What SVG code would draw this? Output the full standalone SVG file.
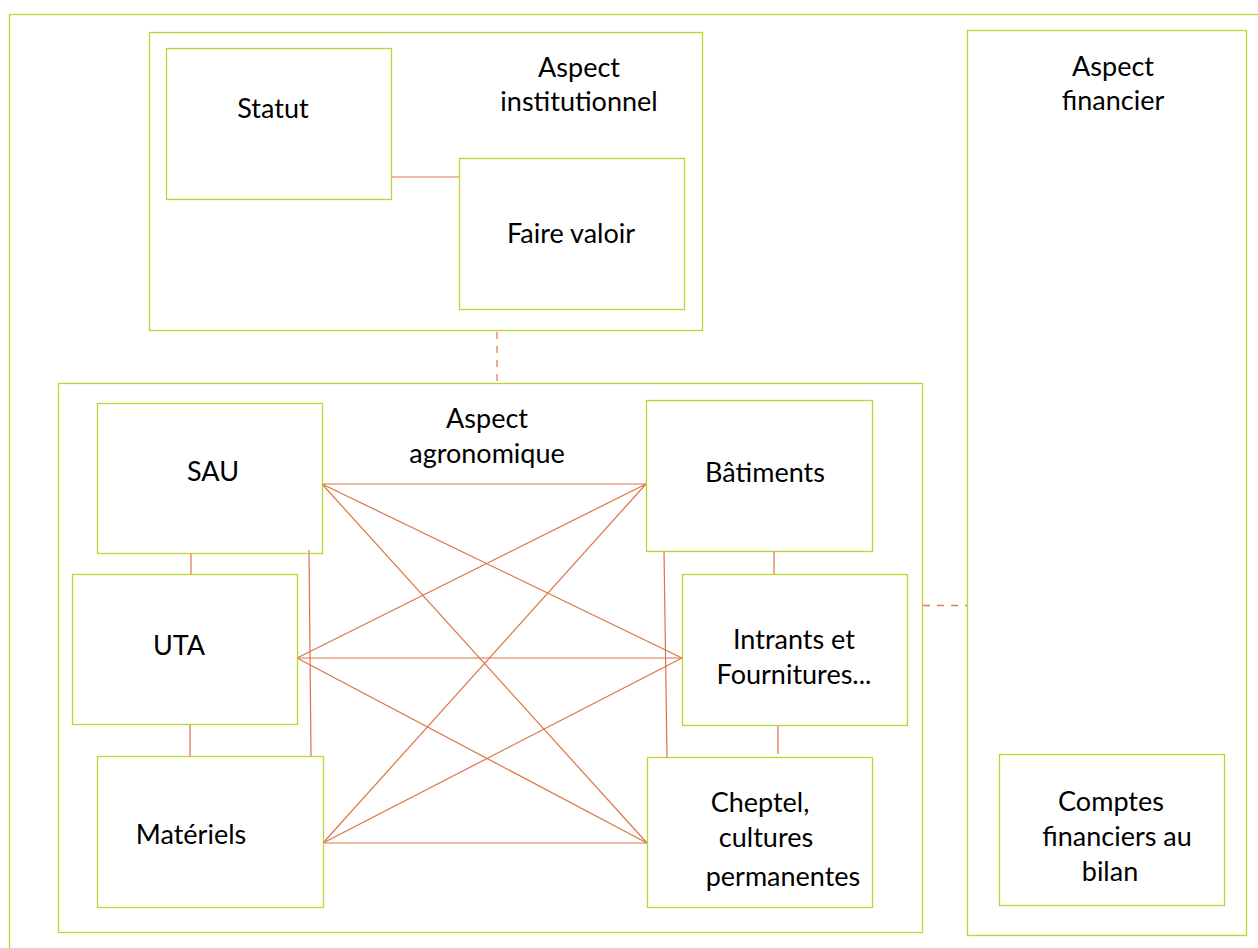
<svg xmlns="http://www.w3.org/2000/svg" width="1258" height="948" viewBox="0 0 1258 948">
<style>
.box{fill:none;stroke:#bcd62e;stroke-width:1.3}
.t{font-family:Lato,"Liberation Sans",sans-serif;font-size:27px;fill:#000;text-anchor:middle}
.ln{stroke:#dc7446;stroke-width:1.2;fill:none}
.dash{stroke:#e08058;stroke-width:1.3;stroke-dasharray:7,7;fill:none}
</style>
<rect width="1258" height="948" fill="#fff"/>
<rect class="box" x="9.5" y="14.5" width="1260" height="950"/>
<g id="connectors">
<line class="ln" x1="391" y1="177" x2="459" y2="177"/>
<line class="dash" x1="497" y1="332" x2="497" y2="382"/>
<line class="dash" x1="923" y1="605.5" x2="967" y2="605.5"/>
<line class="ln" x1="191" y1="553" x2="191" y2="574"/>
<line class="ln" x1="190" y1="724" x2="190" y2="756"/>
<line class="ln" x1="309" y1="550" x2="311" y2="756"/>
<line class="ln" x1="774" y1="551" x2="774" y2="574"/>
<line class="ln" x1="778" y1="725" x2="778" y2="754"/>
<line class="ln" x1="664" y1="551" x2="667" y2="757"/>
<line class="ln" x1="322" y1="484" x2="646" y2="484"/>
<line class="ln" x1="322" y1="484" x2="682" y2="658"/>
<line class="ln" x1="322" y1="484" x2="647" y2="843"/>
<line class="ln" x1="297" y1="658" x2="646" y2="484"/>
<line class="ln" x1="297" y1="658" x2="682" y2="658"/>
<line class="ln" x1="297" y1="658" x2="647" y2="843"/>
<line class="ln" x1="323" y1="843" x2="646" y2="484"/>
<line class="ln" x1="323" y1="843" x2="682" y2="658"/>
<line class="ln" x1="323" y1="843" x2="647" y2="843"/>
</g>
<g id="aspect-institutionnel">
<rect class="box" x="149.5" y="32.5" width="553" height="298"/>
<text class="t" x="579" y="77">Aspect</text>
<text class="t" x="579" y="111">institutionnel</text>
</g>
<g id="statut">
<rect class="box" x="166.5" y="48.5" width="225" height="151"/>
<text class="t" x="273" y="118">Statut</text>
</g>
<g id="faire-valoir">
<rect class="box" x="459.5" y="158.5" width="225" height="151"/>
<text class="t" x="571" y="243">Faire valoir</text>
</g>
<g id="aspect-agronomique">
<rect class="box" x="58.5" y="383.5" width="864" height="549"/>
<text class="t" x="487" y="428">Aspect</text>
<text class="t" x="487" y="463">agronomique</text>
</g>
<g id="sau">
<rect class="box" x="97.5" y="403.5" width="225" height="150"/>
<text class="t" x="213" y="481">SAU</text>
</g>
<g id="uta">
<rect class="box" x="72.5" y="574.5" width="225" height="150"/>
<text class="t" x="179" y="655">UTA</text>
</g>
<g id="materiels">
<rect class="box" x="97.5" y="756.5" width="226" height="151"/>
<text class="t" x="191" y="844">Matériels</text>
</g>
<g id="batiments">
<rect class="box" x="646.5" y="400.5" width="226" height="151"/>
<text class="t" x="765" y="482">Bâtiments</text>
</g>
<g id="intrants">
<rect class="box" x="682.5" y="574.5" width="225" height="151"/>
<text class="t" x="794" y="649">Intrants et</text>
<text class="t" x="794" y="684">Fournitures...</text>
</g>
<g id="cheptel">
<rect class="box" x="647.5" y="757.5" width="225" height="150"/>
<text class="t" x="760" y="812">Cheptel,</text>
<text class="t" x="766" y="847">cultures</text>
<text class="t" x="783" y="886">permanentes</text>
</g>
<g id="aspect-financier">
<rect class="box" x="967.5" y="30.5" width="279" height="905"/>
<text class="t" x="1113" y="76">Aspect</text>
<text class="t" x="1113" y="110">financier</text>
</g>
<g id="comptes">
<rect class="box" x="999.5" y="754.5" width="225" height="151"/>
<text class="t" x="1111" y="811">Comptes</text>
<text class="t" x="1117" y="846">financiers au</text>
<text class="t" x="1110" y="881">bilan</text>
</g>
</svg>
